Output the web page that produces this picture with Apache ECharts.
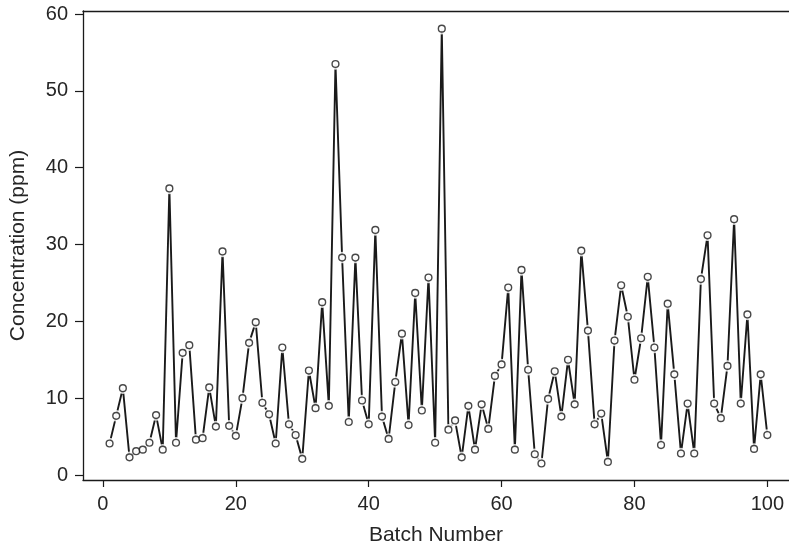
<!DOCTYPE html>
<html>
<head>
<meta charset="utf-8">
<script src="https://cdn.jsdelivr.net/npm/echarts@6/dist/echarts.min.js"></script>
<style>
html,body{margin:0;padding:0;background:#fff;}
#chart{width:789px;height:551px;}
</style>
</head>
<body>
<div id="chart"></div>
<script>
const batches = [1,2,3,4,5,6,7,8,9,10,11,12,13,14,15,16,17,18,19,20,
  21,22,23,24,25,26,27,28,29,30,31,32,33,34,35,36,37,38,39,40,
  41,42,43,44,45,46,47,48,49,50,51,52,53,54,55,56,57,58,59,60,
  61,62,63,64,65,66,67,68,69,70,71,72,73,74,75,76,77,78,79,80,
  81,82,83,84,85,86,87,88,89,90,91,92,93,94,95,96,97,98,99,100];
const concentration = [4.1,7.7,11.3,2.3,3.1,3.3,4.2,7.8,3.3,37.3,
  4.2,15.9,16.9,4.6,4.8,11.4,6.3,29.1,6.4,5.1,
  10.0,17.2,19.9,9.4,7.9,4.1,16.6,6.6,5.2,2.1,
  13.6,8.7,22.5,9.0,53.5,28.3,6.9,28.3,9.7,6.6,
  31.9,7.6,4.7,12.1,18.4,6.5,23.7,8.4,25.7,4.2,
  58.1,5.9,7.1,2.3,9.0,3.3,9.2,6.0,12.9,14.4,
  24.4,3.3,26.7,13.7,2.7,1.5,9.9,13.5,7.6,15.0,
  9.2,29.2,18.8,6.6,8.0,1.7,17.5,24.7,20.6,12.4,
  17.8,25.8,16.6,3.9,22.3,13.1,2.8,9.3,2.8,25.5,
  31.2,9.3,7.4,14.2,33.3,9.3,20.9,3.4,13.1,5.2];
const xTicks = [0,20,40,60,80,100];
const yTicks = [0,10,20,30,40,50,60];
const xTitle = 'Batch Number';
const yTitle = 'Concentration (ppm)';

const pts = batches.map((b,i)=>[b, concentration[i]]);
const ink = '#1a1a1a';
const txt = '#262626';
const chart = echarts.init(document.getElementById('chart'), null, {renderer:'canvas'});
chart.setOption({
  animation:false,
  backgroundColor:'#fff',
  grid:{left:82.3, top:11, right:0, bottom:67.7, show:false},
  xAxis:[{
    type:'value', min:-3.0, max:103.26, position:'bottom',
    name:xTitle, nameLocation:'middle', nameGap:45,
    nameTextStyle:{fontFamily:'Liberation Sans', fontSize:21, color:txt},
    axisLine:{show:true, onZero:false, lineStyle:{color:ink, width:1.3}},
    axisTick:{show:true, length:7, customValues:xTicks, lineStyle:{color:ink, width:1.2}},
    axisLabel:{customValues:xTicks, fontFamily:'Liberation Sans', fontSize:20, color:txt, margin:14},
    splitLine:{show:false}
  },{
    type:'value', min:-3.0, max:103.26, position:'top',
    axisLine:{show:true, onZero:false, lineStyle:{color:ink, width:1.3}},
    axisTick:{show:false}, axisLabel:{show:false}, splitLine:{show:false}
  }],
  yAxis:{
    type:'value', min:-0.65, max:60.4,
    name:yTitle, nameLocation:'middle', nameGap:54, nameRotate:90,
    nameTextStyle:{fontFamily:'Liberation Sans', fontSize:21, color:txt},
    axisLine:{show:true, onZero:false, lineStyle:{color:ink, width:1.3}},
    axisTick:{show:true, length:8, customValues:yTicks, lineStyle:{color:ink, width:1.2}},
    axisLabel:{customValues:yTicks, fontFamily:'Liberation Sans', fontSize:20, color:txt, margin:15},
    splitLine:{show:false}
  },
  series:[
    {type:'line', data:pts, symbol:'none', lineStyle:{color:ink, width:1.9}, z:2},
    {type:'scatter', data:pts, symbol:'circle', symbolSize:11.5, itemStyle:{color:'#fff'}, z:3, silent:true},
    {type:'scatter', data:pts, symbol:'circle', symbolSize:6.8, itemStyle:{color:'#fff', borderColor:ink, borderWidth:1.4}, z:4, silent:true}
  ]
});
</script>
</body>
</html>
